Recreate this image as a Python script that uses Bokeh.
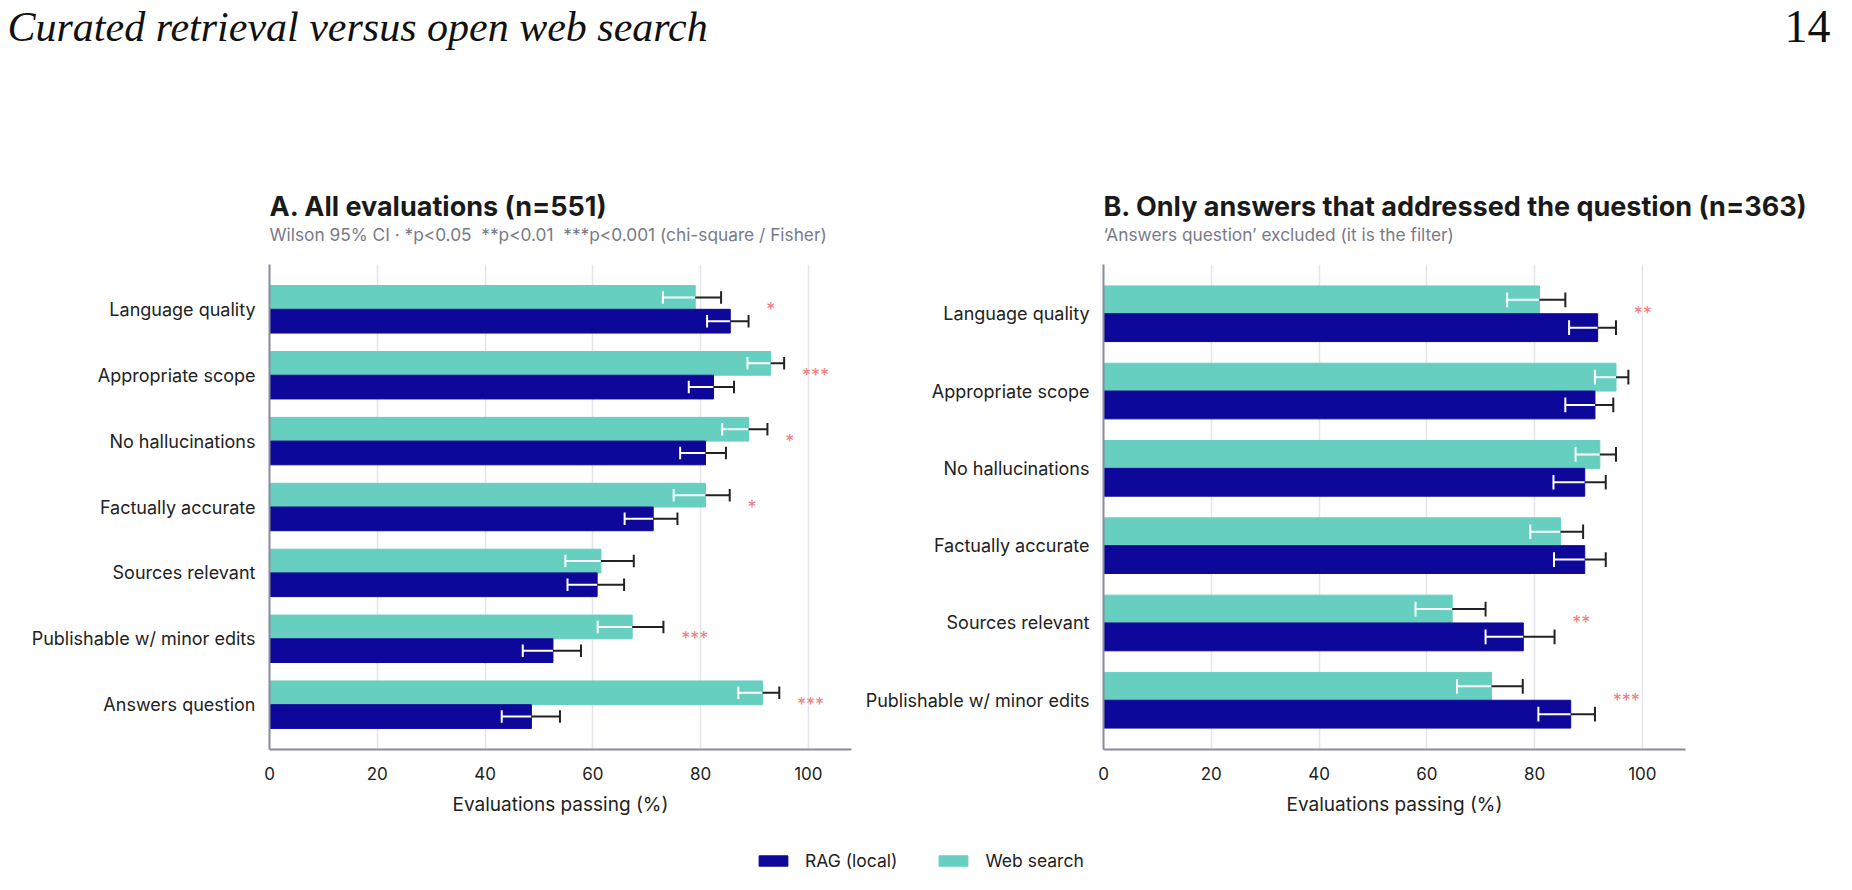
from bokeh.plotting import figure
from bokeh.models import (FactorRange, Range1d, ColumnDataSource, Legend, LegendItem, Label)
from bokeh.transform import dodge
from bokeh.layouts import column, row
from bokeh.embed import file_html
from bokeh.resources import INLINE
from bokeh.core.properties import value

# ---------------- data ----------------
cats_a = ["Language quality", "Appropriate scope", "No hallucinations", "Factually accurate",
          "Sources relevant", "Publishable w/ minor edits", "Answers question"]
rag_a = [85.5, 82.4, 80.9, 71.2, 60.8, 52.6, 48.6]
rag_a_lo = [81.2, 77.8, 76.2, 65.9, 55.3, 47.0, 43.1]
rag_a_hi = [88.9, 86.2, 84.7, 75.7, 65.8, 57.8, 53.9]
web_a = [79.0, 93.0, 88.9, 80.9, 61.5, 67.3, 91.5]
web_a_lo = [73.0, 88.7, 84.0, 75.0, 54.9, 60.9, 87.0]
web_a_hi = [83.8, 95.5, 92.4, 85.4, 67.6, 73.1, 94.6]
sig_a = ["*", "***", "*", "*", "", "***", "***"]

cats_b = ["Language quality", "Appropriate scope", "No hallucinations", "Factually accurate",
          "Sources relevant", "Publishable w/ minor edits"]
rag_b = [91.7, 91.2, 89.3, 89.3, 77.9, 86.7]
rag_b_lo = [86.4, 85.7, 83.5, 83.6, 70.9, 80.7]
rag_b_hi = [95.1, 94.6, 93.2, 93.2, 83.7, 91.2]
web_b = [80.9, 95.1, 92.1, 84.8, 64.7, 72.0]
web_b_lo = [74.9, 91.2, 87.6, 79.2, 57.9, 65.6]
web_b_hi = [85.7, 97.4, 95.1, 89.0, 70.9, 77.8]
sig_b = ["**", "", "", "", "**", "***"]

x_ticks = [0, 20, 40, 60, 80, 100]

RAG = "#0d0899"
WEB = "#66cfc0"
STAR = "#f08080"
DARK = "#222222"
FONT = "Inter"
OFF = 0.18      # dodge of each bar from the category centre
CAP = 0.095     # half height of the error-bar caps


def panel(cats, rag, rlo, rhi, web, wlo, whi, sig, width, bl, br, pad):
    yr = FactorRange(factors=list(reversed(cats)), range_padding=pad,
                     range_padding_units="absolute")
    p = figure(width=width, height=485 + 97, y_range=yr, x_range=Range1d(0, 108),
               output_backend="svg", toolbar_location=None,
               min_border_left=bl, min_border_right=br, min_border_top=0,
               min_border_bottom=97)
    src = ColumnDataSource(dict(cat=cats, rag=rag, rlo=rlo, rhi=rhi, web=web, wlo=wlo,
                                whi=whi, sig=sig,
                                sx=[max(a, b) + 3.3 for a, b in zip(rhi, whi)]))
    for off, val, lo, hi, col in ((OFF, "web", "wlo", "whi", WEB),
                                  (-OFF, "rag", "rlo", "rhi", RAG)):
        yc = dodge("cat", off, range=yr)
        y_top = dodge("cat", off + CAP, range=yr)
        y_bot = dodge("cat", off - CAP, range=yr)
        p.hbar(y=yc, left=0, right=val, height=0.36, color=col, source=src)
        # part of the interval inside the bar: white
        p.segment(x0=lo, x1=val, y0=yc, y1=yc, line_color="white", line_width=2, source=src)
        p.segment(x0=lo, x1=lo, y0=y_bot, y1=y_top, line_color="white", line_width=2,
                  source=src)
        # part outside the bar: dark
        p.segment(x0=val, x1=hi, y0=yc, y1=yc, line_color=DARK, line_width=2, source=src)
        p.segment(x0=hi, x1=hi, y0=y_bot, y1=y_top, line_color=DARK, line_width=2,
                  source=src)
    p.text(x="sx", y="cat", text="sig", source=src, text_color=STAR,
           text_font_size="18px", text_baseline="middle", text_align="left",
           text_font=value(FONT))
    p.outline_line_color = None
    p.ygrid.grid_line_color = None
    p.xgrid.grid_line_color = "#e4e4ea"
    p.xgrid.grid_line_width = 1.5
    p.xaxis.ticker = x_ticks
    p.xaxis.axis_label = "Evaluations passing (%)"
    for ax in (p.xaxis, p.yaxis):
        ax.axis_line_color = "#8a8c99"
        ax.axis_line_width = 2
        ax.major_tick_line_color = None
        ax.minor_tick_line_color = None
        ax.major_label_text_font = FONT
        ax.major_label_text_color = DARK
    p.xaxis.major_label_text_font_size = "17px"
    p.xaxis.major_label_standoff = 11
    p.xaxis.axis_label_text_font = FONT
    p.xaxis.axis_label_text_font_size = "19px"
    p.xaxis.axis_label_text_font_style = "normal"
    p.xaxis.axis_label_text_color = DARK
    p.xaxis.axis_label_standoff = 10
    p.yaxis.major_label_text_font_size = "18px"
    p.yaxis.major_label_standoff = 8
    return p


pa = panel(cats_a, rag_a, rag_a_lo, rag_a_hi, web_a, web_a_lo, web_a_hi, sig_a,
           853, 269, 2, 0.18)
pb = panel(cats_b, rag_b, rag_b_lo, rag_b_hi, web_b, web_b_lo, web_b_hi, sig_b,
           991, 250, 159, 0.137)

# ---------------- header ----------------
hd = figure(width=1844, height=264, x_range=Range1d(0, 1844), y_range=Range1d(264, 0),
            x_axis_type=None, y_axis_type=None, output_backend="svg",
            toolbar_location=None, min_border=0)
hd.outline_line_color = None
hd.xgrid.visible = False
hd.ygrid.visible = False
hd.add_layout(Label(x=7, y=26, text="Curated retrieval versus open web search",
                    text_font="Liberation Serif", text_font_style="italic",
                    text_font_size="42px", text_baseline="middle", text_color="#111111"))
hd.add_layout(Label(x=1830, y=26, text="14", text_font="Liberation Serif",
                    text_font_size="46px", text_baseline="middle", text_align="right",
                    text_color="#111111"))
SUB_A = ("Wilson 95% CI \u00b7 *p<0.05\u00a0 **p<0.01\u00a0 ***p<0.001 "
         "(chi-square / Fisher)")
SUB_B = "\u2018Answers question\u2019 excluded (it is the filter)"
for x0, t, s in ((269, "A. All evaluations (n=551)", SUB_A),
                 (1103, "B. Only answers that addressed the question (n=363)", SUB_B)):
    hd.add_layout(Label(x=x0, y=205.5, text=t, text_font=FONT, text_font_style="bold",
                        text_font_size="27px", text_baseline="middle", text_color="#1a1a1a"))
    hd.add_layout(Label(x=x0, y=234, text=s, text_font=FONT, text_font_size="17.3px",
                        text_baseline="middle", text_color="#777a88"))

# ---------------- legend ----------------
lf = figure(width=1844, height=30, x_range=Range1d(0, 1), y_range=Range1d(0, 1),
            x_axis_type=None, y_axis_type=None, output_backend="svg",
            toolbar_location=None, min_border=0)
lf.outline_line_color = None
lf.xgrid.visible = False
lf.ygrid.visible = False
r1 = lf.hbar(y=[5], right=[5], left=[4], height=0.5, color=RAG)
r2 = lf.hbar(y=[5], right=[5], left=[4], height=0.5, color=WEB)
leg = Legend(items=[LegendItem(label="RAG (local)", renderers=[r1]),
                    LegendItem(label="Web search", renderers=[r2])],
             orientation="horizontal", location=(755, 5), glyph_width=36, glyph_height=13,
             label_text_font=FONT, label_text_font_size="17.5px", label_text_color=DARK,
             label_standoff=14, spacing=38, border_line_color=None,
             background_fill_alpha=0, padding=0, margin=0)
lf.add_layout(leg, "center")

layout = column(hd, row(pa, pb), lf)
open("out.html", "w").write(file_html(layout, INLINE))
